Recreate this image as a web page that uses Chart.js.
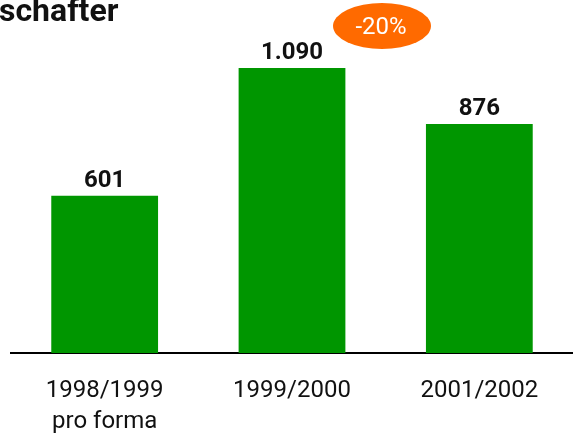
<!DOCTYPE html>
<html>
<head>
<meta charset="utf-8">
<script src="https://cdn.jsdelivr.net/npm/chart.js@4"></script>
<style>
  html, body { margin: 0; padding: 0; background: #fff; }
  #wrap { width: 573px; height: 434px; position: relative; }
</style>
</head>
<body>
<div id="wrap"><canvas id="barchart"></canvas></div>
<script>
// datos del gráfico
const categorias = [['1998/1999', 'pro forma'], '1999/2000', '2001/2002'];
const valores = [601, 1090, 876];
const cambio = '-20%';
const titulo = 'schafter';

const verde = '#009600';
const naranja = '#ff6a00';

// etiquetas de valor encima de cada barra
const etiquetasValor = {
    id: 'etiquetasValor',
    afterDatasetsDraw(chart) {
        const ctx = chart.ctx;
        const meta = chart.getDatasetMeta(0);
        ctx.save();
        ctx.font = 'bold 24px Roboto';
        ctx.fillStyle = '#111';
        ctx.textAlign = 'center';
        ctx.textBaseline = 'alphabetic';
        meta.data.forEach((bar, i) => {
            const txt = valores[i].toLocaleString('de-DE');
            ctx.fillText(txt, bar.x, bar.y - 9);
        });
        ctx.restore();
    }
};

// título cortado y globo naranja
const extras = {
    id: 'extras',
    afterDraw(chart) {
        const ctx = chart.ctx;
        ctx.save();
        ctx.font = 'bold 32px Roboto';
        ctx.fillStyle = '#111';
        ctx.textAlign = 'left';
        ctx.textBaseline = 'alphabetic';
        ctx.fillText(titulo, -1, 21);

        ctx.fillStyle = naranja;
        ctx.beginPath();
        ctx.ellipse(382, 26, 49, 23, 0, 0, Math.PI * 2);
        ctx.fill();
        ctx.fillStyle = '#fff';
        ctx.font = '24px Roboto';
        ctx.textAlign = 'center';
        ctx.textBaseline = 'middle';
        ctx.fillText(cambio, 381, 28);
        ctx.restore();
    }
};

const ctx1 = document.getElementById('barchart');
const barchart = new Chart(ctx1, {
    type: 'bar',
    data: {
        labels: categorias,
        datasets: [{
            data: valores,
            backgroundColor: verde,
            borderWidth: 0,
            barPercentage: 0.57,
            categoryPercentage: 1
        }]
    },
    options: {
        responsive: true,
        maintainAspectRatio: false,
        animation: false,
        layout: { padding: { top: 0, left: 11, right: 0, bottom: 0 } },
        plugins: {
            legend: { display: false },
            tooltip: { enabled: false }
        },
        scales: {
            x: {
                grid: { display: false, drawTicks: false },
                border: { display: true, color: '#000', width: 2 },
                ticks: {
                    color: '#111',
                    padding: 22,
                    font: { family: 'Roboto', size: 24, lineHeight: 1.3 },
                    maxRotation: 0
                },
                afterFit(scale) {
                    scale.height = 81;
                }
            },
            y: {
                display: false,
                min: 0,
                max: 1350
            }
        }
    },
    plugins: [etiquetasValor, extras]
});
</script>
</body>
</html>
